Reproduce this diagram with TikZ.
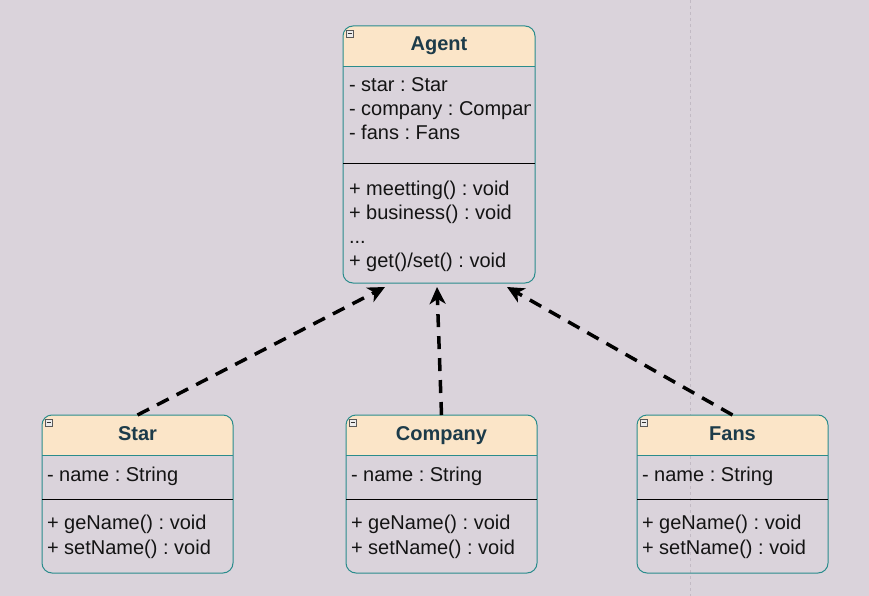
\documentclass[tikz,border=0pt]{standalone}
\usepackage{fontspec}
\setmainfont{Liberation Sans}
\usetikzlibrary{arrows.meta,calc}
\definecolor{bg}{HTML}{DAD3DB}
\definecolor{hdr}{HTML}{FBE5C8}
\definecolor{edgec}{HTML}{2A8C8C}
\definecolor{ttl}{HTML}{1C3B4A}
\definecolor{gridc}{HTML}{C2BAC4}
\tikzset{
  every node/.style={inner sep=0pt, outer sep=0pt},
  txt/.style={anchor=base west, font=\fontsize{20}{24}\selectfont\frenchspacing, text=black!92},
  ttlstyle/.style={anchor=base, font=\fontsize{20}{24}\selectfont\bfseries, text=ttl},
  classbox/.style={minimum width=#1, rectangle},
  dep/.style={line width=3.5pt, dash pattern=on 13pt off 9pt, -{Stealth[length=17pt,width=16pt,inset=5pt]}},
  iconbox/.style={draw=gray!70!black, fill=gray!15, line width=0.6pt}
}
\newcommand\umlframe[3]{%
  \begin{scope}
    \clip[rounded corners=10pt] (#1.north west) rectangle (#1.south east);
    \fill[hdr] (#1.north west) rectangle ($(#1.north east)+(0,#2)$);
  \end{scope}
  \draw[edgec, line width=1pt, rounded corners=10pt] (#1.north west) rectangle (#1.south east);
  \draw[edgec, line width=1pt] ($(#1.north west)+(0,#2)$) -- ($(#1.north east)+(0,#2)$);
  \draw[black, line width=0.8pt] ($(#1.north west)+(0,#3)$) -- ($(#1.north east)+(0,#3)$);
  \draw[iconbox] ($(#1.north west)+(3,4)$) rectangle ++(7,7);
  \draw[gray!40!black, line width=0.6pt] ($(#1.north west)+(4.5,7.5)$) -- ++(4,0);
}
\begin{document}
\begin{tikzpicture}[x=1pt, y=-1pt]
\useasboundingbox (0,0) rectangle (869,596);
\fill[bg] (0,0) rectangle (869,596);
\draw[gridc, line width=0.6pt, dash pattern=on 3pt off 3pt] (690,0) -- (690,596);

% class shapes
\node[classbox=192pt, minimum height=257pt] (agent) at (439,154.5) {};
\node[classbox=191pt, minimum height=158pt] (star) at (137.5,494) {};
\node[classbox=191pt, minimum height=158pt] (company) at (441.5,494) {};
\node[classbox=191pt, minimum height=158pt] (fans) at (732.5,494) {};

\umlframe{agent}{41}{137}
\umlframe{star}{40}{84}
\umlframe{company}{40}{84}
\umlframe{fans}{40}{84}

% Agent text
\node[ttlstyle] (agentT) at (439,51) {Agent};
\begin{scope}
  \clip (agent.north west) rectangle ($(agent.south east)+(-4.5,0)$);
  \node[txt] (a1) at (349,92) {- star : Star};
  \node[txt] (a2) at (349,116) {- company : Company};
  \node[txt] (a3) at (349,140) {- fans : Fans};
  \node[txt] (a4) at (349,195) {+ meetting() : void};
  \node[txt] (a5) at (349,219) {+ business() : void};
  \node[txt] (a6) at (349,243) {...};
  \node[txt] (a7) at (349,267) {+ get()/set() : void};
\end{scope}

% Star text
\node[ttlstyle] (starT) at (137.5,440) {Star};
\node[txt] (s1) at (47,481) {- name : String};
\node[txt] (s2) at (47,529) {+ geName() : void};
\node[txt] (s3) at (47,554) {+ setName() : void};

% Company text
\node[ttlstyle] (compT) at (441.5,440) {Company};
\node[txt] (c1) at (351,481) {- name : String};
\node[txt] (c2) at (351,529) {+ geName() : void};
\node[txt] (c3) at (351,554) {+ setName() : void};

% Fans text
\node[ttlstyle] (fansT) at (732.5,440) {Fans};
\node[txt] (f1) at (642,481) {- name : String};
\node[txt] (f2) at (642,529) {+ geName() : void};
\node[txt] (f3) at (642,554) {+ setName() : void};

% dependencies
\draw[dep] (star.north) -- ($(agent.south)+(-54,4)$);
\draw[dep] (company.north) -- ($(agent.south)+(-2,4)$);
\draw[dep] (fans.north) -- ($(agent.south)+(68,4)$);
\end{tikzpicture}
\end{document}
